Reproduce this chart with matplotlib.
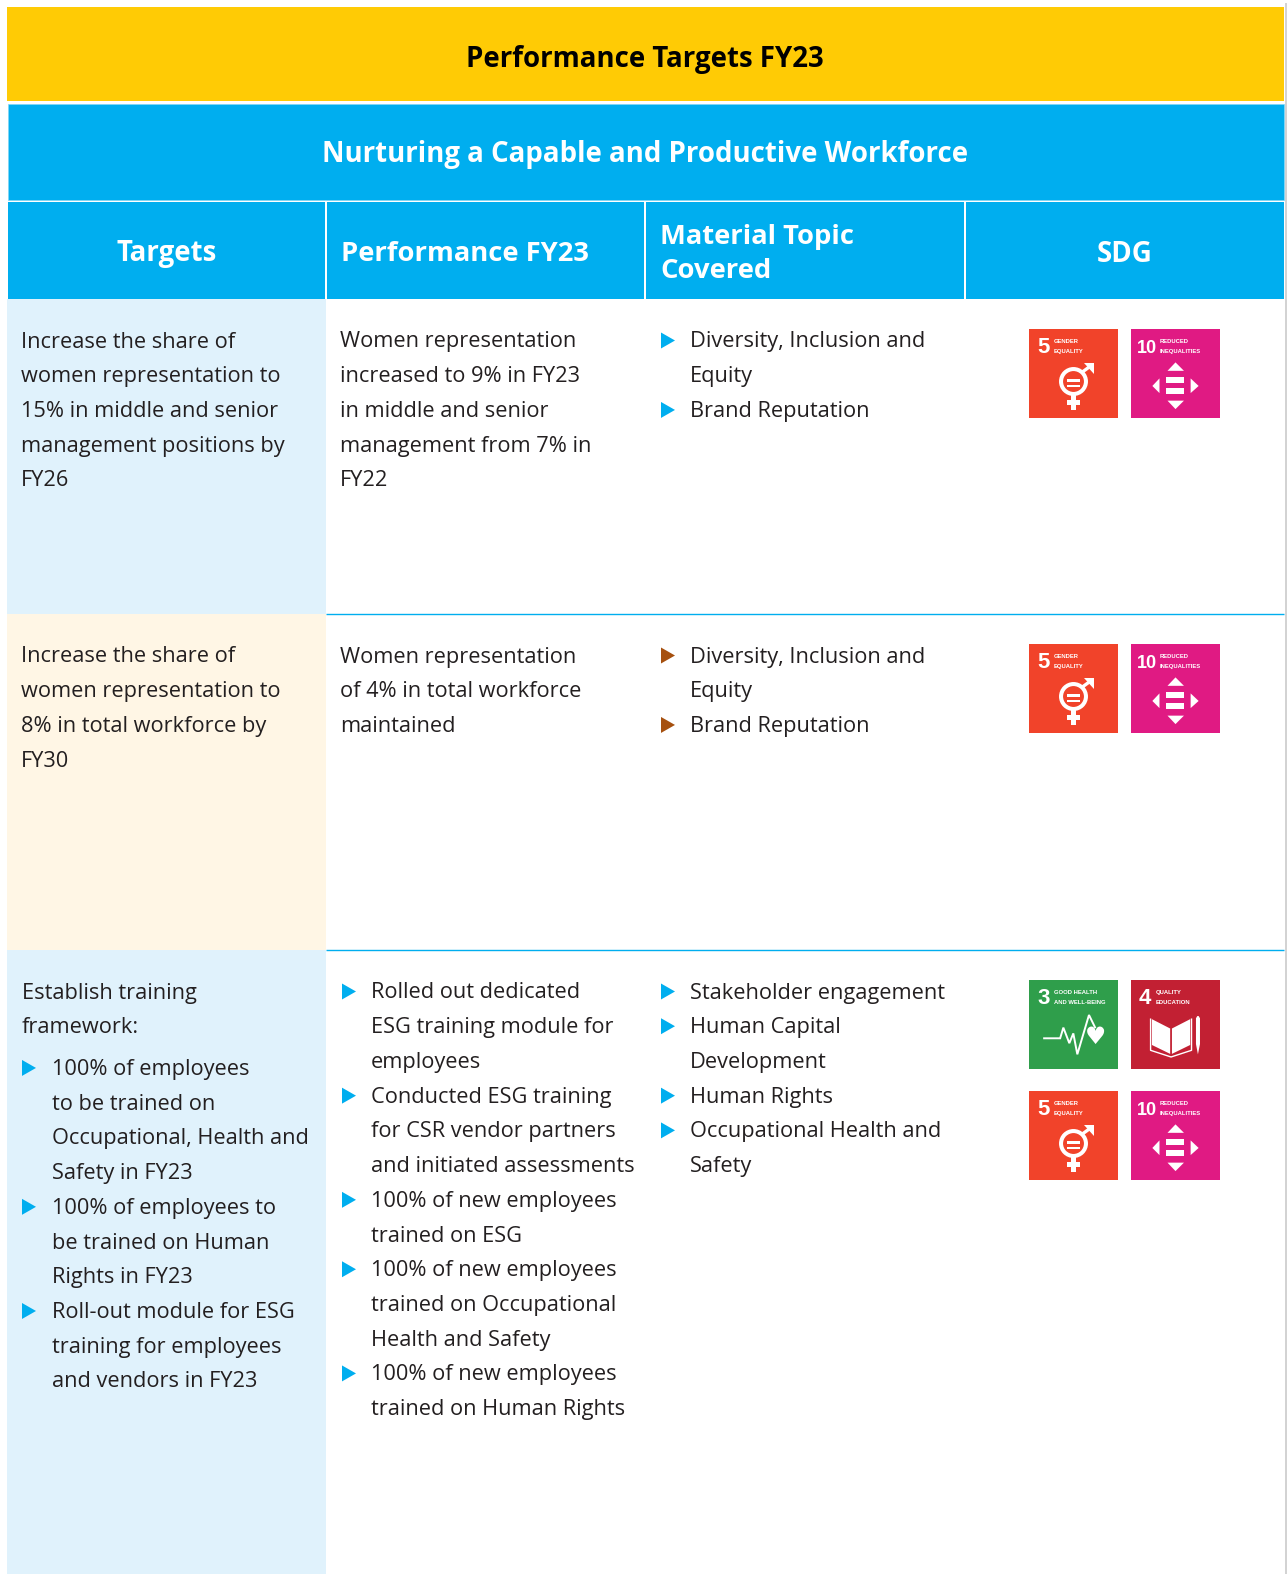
"""Performance targets table, drawn on a pixel-sized axes."""

import matplotlib

matplotlib.use("Agg")
import matplotlib.pyplot as plt
from matplotlib.patches import Circle, Polygon, Rectangle

WIDTH = 1287
HEIGHT = 1574
FONT = "Open Sans"
NARROW = "Liberation Sans"

YELLOW = "#FFCB05"
BLUE = "#00AEEF"
LIGHT_BLUE = "#E0F2FC"
CREAM = "#FFF6E5"
BROWN = "#A6500F"
INK = "#231F20"

TITLE = "Performance Targets FY23"
SUBTITLE = "Nurturing a Capable and Productive Workforce"
HEADERS = ["Targets", "Performance FY23", "Material Topic\nCovered", "SDG"]

# each cell: list of (bulleted, lines)
ROW1_TARGET = [(False, ["Increase the share of", "women representation to", "15% in middle and senior", "management positions by", "FY26"])]
ROW1_PERF = [(False, ["Women representation", "increased to 9% in FY23", "in middle and senior", "management from 7% in", "FY22"])]
ROW1_TOPIC = [(True, ["Diversity, Inclusion and", "Equity"]), (True, ["Brand Reputation"])]
ROW1_SDG = [[5, 10]]

ROW2_TARGET = [(False, ["Increase the share of", "women representation to", "8% in total workforce by", "FY30"])]
ROW2_PERF = [(False, ["Women representation", "of 4% in total workforce", "maintained"])]
ROW2_TOPIC = [(True, ["Diversity, Inclusion and", "Equity"]), (True, ["Brand Reputation"])]
ROW2_SDG = [[5, 10]]

ROW3_TARGET = [
    (False, ["Establish training", "framework:"]),
    (True, ["100% of employees", "to be trained on", "Occupational, Health and", "Safety in FY23"]),
    (True, ["100% of employees to", "be trained on Human", "Rights in FY23"]),
    (True, ["Roll-out module for ESG", "training for employees", "and vendors in FY23"]),
]
ROW3_PERF = [
    (True, ["Rolled out dedicated", "ESG training module for", "employees"]),
    (True, ["Conducted ESG training", "for CSR vendor partners", "and initiated assessments"]),
    (True, ["100% of new employees", "trained on ESG"]),
    (True, ["100% of new employees", "trained on Occupational", "Health and Safety"]),
    (True, ["100% of new employees", "trained on Human Rights"]),
]
ROW3_TOPIC = [
    (True, ["Stakeholder engagement"]),
    (True, ["Human Capital", "Development"]),
    (True, ["Human Rights"]),
    (True, ["Occupational Health and", "Safety"]),
]
ROW3_SDG = [[3, 4], [5, 10]]

SDG_LABELS = {
    3: ["GOOD HEALTH", "AND WELL-BEING"],
    4: ["QUALITY", "EDUCATION"],
    5: ["GENDER", "EQUALITY"],
    10: ["REDUCED", "INEQUALITIES"],
}
SDG_COLORS = {3: "#2F9E4B", 4: "#C22033", 5: "#F1432A", 10: "#E01A83"}

# column edges and row edges, in image pixels
COL_X = [8, 326, 645, 965, 1284]
ROW_Y = [299, 614, 950, 1574]
PITCH = 34.72
ICON = 89


def poly(ax, pts, x0, y0, **kw):
    ax.add_patch(Polygon([(x0 + px * ICON, y0 + py * ICON) for px, py in pts], closed=True, fc="white", ec="none", **kw))


def bar(ax, x0, y0, x1, y1, x2, y2):
    ax.add_patch(Rectangle((x0 + x1 * ICON, y0 + y1 * ICON), (x2 - x1) * ICON, (y2 - y1) * ICON, fc="white", ec="none"))


def draw_gender(ax, x0, y0):
    cx, cy = x0 + 0.50 * ICON, y0 + 0.59 * ICON
    ax.add_patch(Circle((cx, cy), 0.14 * ICON, fc="none", ec="white", lw=2.9))
    bar(ax, x0, y0, 0.43, 0.56, 0.57, 0.59)
    bar(ax, x0, y0, 0.43, 0.625, 0.57, 0.655)
    bar(ax, x0, y0, 0.47, 0.74, 0.53, 0.905)
    bar(ax, x0, y0, 0.425, 0.795, 0.575, 0.85)
    poly(ax, [(0.62, 0.38), (0.735, 0.38), (0.735, 0.50)], x0, y0)
    ax.plot([x0 + 0.59 * ICON, x0 + 0.70 * ICON], [y0 + 0.49 * ICON, y0 + 0.41 * ICON], color="white", lw=2.4, solid_capstyle="butt")


def draw_reduced(ax, x0, y0):
    poly(ax, [(0.50, 0.375), (0.41, 0.47), (0.595, 0.47)], x0, y0)
    poly(ax, [(0.50, 0.90), (0.41, 0.805), (0.595, 0.805)], x0, y0)
    poly(ax, [(0.24, 0.64), (0.32, 0.555), (0.32, 0.72)], x0, y0)
    poly(ax, [(0.76, 0.64), (0.67, 0.555), (0.67, 0.72)], x0, y0)
    bar(ax, x0, y0, 0.39, 0.54, 0.60, 0.61)
    bar(ax, x0, y0, 0.39, 0.665, 0.60, 0.73)


def draw_health(ax, x0, y0):
    xs = [0.17, 0.35, 0.386, 0.453, 0.498, 0.543, 0.674, 0.742]
    ys = [0.655, 0.655, 0.535, 0.71, 0.60, 0.835, 0.393, 0.532]
    ax.plot([x0 + v * ICON for v in xs], [y0 + v * ICON for v in ys], color="white", lw=1.4, solid_joinstyle="miter")
    ax.text(x0 + 0.75 * ICON, y0 + 0.645 * ICON, "\u2665", color="white", fontsize=17, family="DejaVu Sans", ha="center", va="center")


def draw_book(ax, x0, y0):
    poly(ax, [(0.235, 0.44), (0.44, 0.545), (0.44, 0.83), (0.235, 0.73)], x0, y0)
    poly(ax, [(0.46, 0.545), (0.665, 0.44), (0.665, 0.73), (0.46, 0.83)], x0, y0)
    xs = [0.22, 0.22, 0.45, 0.68, 0.68]
    ys = [0.44, 0.79, 0.865, 0.79, 0.44]
    ax.plot([x0 + v * ICON for v in xs], [y0 + v * ICON for v in ys], color="white", lw=1.0)
    poly(ax, [(0.73, 0.43), (0.745, 0.405), (0.76, 0.405), (0.775, 0.43), (0.775, 0.72), (0.752, 0.835), (0.73, 0.72)], x0, y0)


DRAWERS = {3: draw_health, 4: draw_book, 5: draw_gender, 10: draw_reduced}


def draw_icon(ax, goal, x0, y0):
    ax.add_patch(Rectangle((x0, y0), ICON, ICON, fc=SDG_COLORS[goal], ec="none"))
    size = 13 if goal == 10 else 16
    ax.text(x0 + (0.07 if goal == 10 else 0.09) * ICON, y0 + 0.27 * ICON, str(goal), color="white", family=NARROW, weight="bold", fontsize=size, ha="left", va="baseline")
    label_x = 0.32 if goal == 10 else 0.28
    for i, label in enumerate(SDG_LABELS[goal]):
        ax.text(x0 + label_x * ICON, y0 + (0.155 + i * 0.115) * ICON, label, color="white", family=NARROW, weight="bold", fontsize=4.2, ha="left", va="baseline")
    DRAWERS[goal](ax, x0, y0)


def draw_cell(ax, groups, x, y, bullet_color, text_dx=29, first_gap=0.0):
    for n, (bulleted, lines) in enumerate(groups):
        if n == 1:
            y += first_gap
        if bulleted:
            ax.add_patch(Polygon([(x, y - 15), (x, y + 1), (x + 14, y - 7)], closed=True, fc=bullet_color, ec="none"))
        for line in lines:
            ax.text(x + (text_dx if bulleted else 0), y, line, color=INK, family=FONT, fontsize=15.7, ha="left", va="baseline")
            y += PITCH


fig = plt.figure(figsize=(WIDTH / 100, HEIGHT / 100), dpi=100, facecolor="white")
ax = fig.add_axes([0, 0, 1, 1])
ax.set_xlim(0, WIDTH)
ax.set_ylim(HEIGHT, 0)
ax.axis("off")

# banners
ax.add_patch(Rectangle((7, 7), 1277, 94, fc=YELLOW, ec="none"))
ax.text(645, 59, TITLE, color="black", family=FONT, weight="bold", fontsize=19.9, ha="center", va="center")
ax.add_patch(Rectangle((8, 103.5), 1276, 96, fc=BLUE, ec="#7FD6F7", lw=0.5))
ax.text(645, 154.5, SUBTITLE, color="white", family=FONT, weight="bold", fontsize=19.9, ha="center", va="center")

# column headers
for i, header in enumerate(HEADERS):
    ax.add_patch(Rectangle((COL_X[i] + (1 if i else 0), 202), COL_X[i + 1] - COL_X[i] - (1 if i else 0) - (1 if i < 3 else 0), 96.5, fc=BLUE, ec="none"))
    if i in (0, 3):
        ax.text((COL_X[i] + COL_X[i + 1]) / 2, 254, header, color="white", family=FONT, weight="bold", fontsize=19.9, ha="center", va="center")
    else:
        ax.text(COL_X[i] + 15, 254, header, color="white", family=FONT, weight="bold", fontsize=19.7, ha="left", va="center", linespacing=1.36)

# first column shading
for i, fill in enumerate([LIGHT_BLUE, CREAM, LIGHT_BLUE]):
    ax.add_patch(Rectangle((7, ROW_Y[i]), COL_X[1] - 7, ROW_Y[i + 1] - ROW_Y[i], fc=fill, ec="none"))

# row rules
for y in ROW_Y[1:3]:
    ax.plot([COL_X[1], 1284], [y, y], color=BLUE, lw=1.0, solid_capstyle="butt")

# page edge on the right
ax.plot([1286, 1286], [4, HEIGHT], color="#D2D2D2", lw=1.4)

rows = [
    (ROW1_TARGET, ROW1_PERF, ROW1_TOPIC, ROW1_SDG, BLUE),
    (ROW2_TARGET, ROW2_PERF, ROW2_TOPIC, ROW2_SDG, BROWN),
    (ROW3_TARGET, ROW3_PERF, ROW3_TOPIC, ROW3_SDG, BLUE),
]
for i, (target, perf, topic, sdg, bullet) in enumerate(rows):
    text_y = ROW_Y[i] + 48.5
    draw_cell(ax, target, 22 if i == 2 else 21, text_y, BLUE, text_dx=30, first_gap=7)
    draw_cell(ax, perf, 340 if i < 2 else 342, text_y, BLUE)
    draw_cell(ax, topic, 661, text_y, bullet)
    for r, goals in enumerate(sdg):
        for c, goal in enumerate(goals):
            draw_icon(ax, goal, 1029 + c * 102, ROW_Y[i] + 30 + r * 111)

fig.savefig("out.png", dpi=100)
plt.close(fig)
